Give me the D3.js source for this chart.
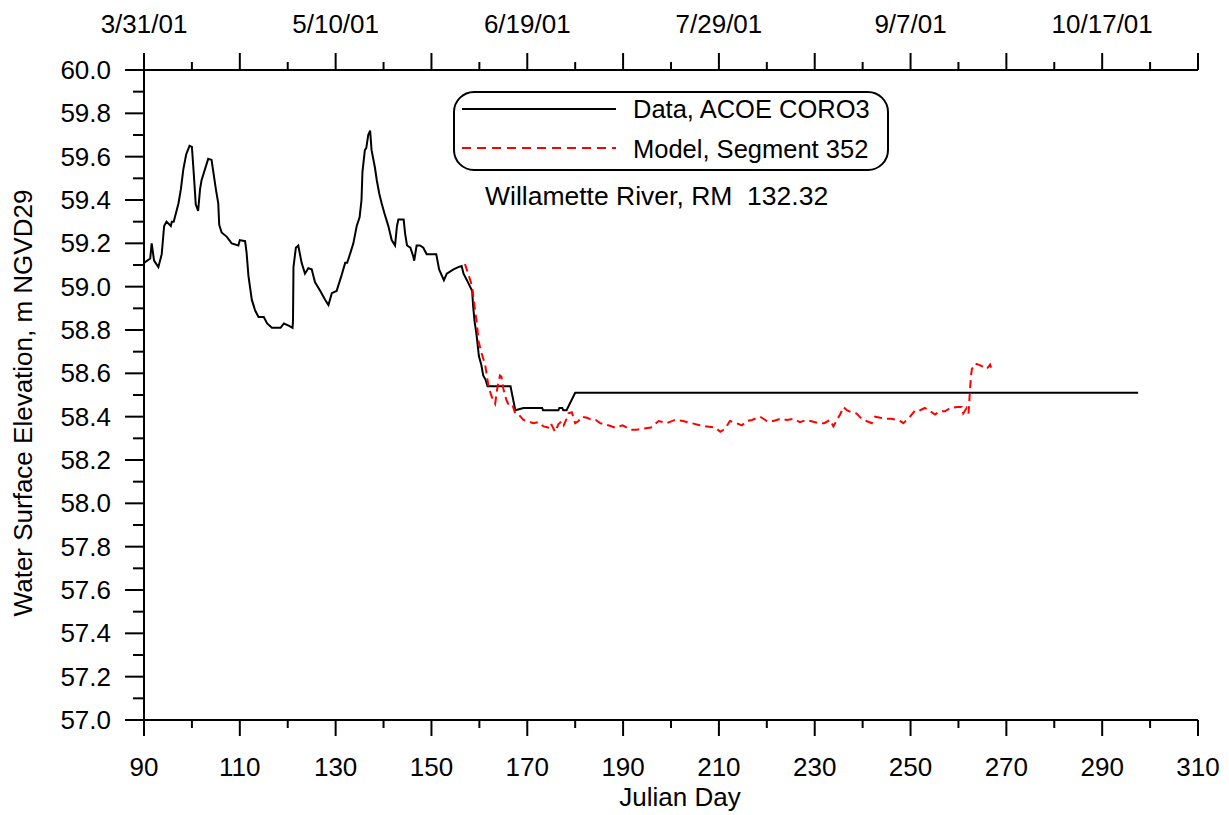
<!DOCTYPE html>
<html>
<head>
<meta charset="utf-8">
<script src="https://cdn.jsdelivr.net/npm/d3@7"></script>
<style>
  html, body { margin: 0; padding: 0; background: #fff; }
  svg text { font-family: "Liberation Sans", Arial, sans-serif; fill: #000; }
</style>
</head>
<body>
<svg id="chart" width="1229" height="815"></svg>
<script>
// ---- data ----
const dataDays = [90,91.3,91.6,92.1,93.0,93.7,94.2,94.7,95.6,95.8,96.2,97.2,97.7,98.2,98.8,99.5,100.0,100.3,100.6,100.8,101.3,101.7,102.0,102.7,103.4,104.1,104.4,105.0,105.5,105.7,106.2,107.3,108.3,109.7,110.0,111.1,111.4,111.8,112.5,113.2,113.9,115.0,115.7,116.7,118.5,119.2,120.2,121.0,121.1,121.2,121.7,122.2,122.9,123.6,124.3,125.0,125.7,126.8,127.8,128.5,129.2,130.2,131.2,132.0,132.4,133.0,133.7,134.4,135.0,135.4,135.6,136.1,136.4,136.8,137.2,137.5,138.2,138.6,139.1,139.6,140.3,141.0,141.7,142.4,142.8,143.1,144.2,144.5,144.9,145.6,146.2,146.4,146.9,147.6,148.3,149.0,151.0,151.6,152.6,153.2,154.6,155.6,156.3,156.7,157.4,158.5,158.7,159.0,159.4,159.9,160.4,160.8,161.3,161.7,166.5,167.5,169.2,173.1,173.3,176.5,176.7,177.3,177.5,178.2,180.0,297.5];
const dataElev = [59.11,59.13,59.20,59.12,59.09,59.15,59.28,59.30,59.28,59.30,59.30,59.385,59.45,59.54,59.61,59.65,59.645,59.55,59.45,59.38,59.35,59.45,59.49,59.54,59.59,59.585,59.54,59.45,59.385,59.285,59.25,59.23,59.20,59.19,59.215,59.21,59.16,59.05,58.94,58.89,58.86,58.86,58.83,58.81,58.81,58.83,58.82,58.81,58.84,59.09,59.18,59.19,59.11,59.06,59.085,59.08,59.02,58.98,58.94,58.915,58.97,58.98,59.05,59.11,59.11,59.15,59.20,59.28,59.32,59.40,59.53,59.63,59.64,59.70,59.72,59.63,59.55,59.49,59.43,59.385,59.33,59.28,59.215,59.19,59.28,59.31,59.31,59.245,59.19,59.18,59.14,59.12,59.19,59.19,59.18,59.15,59.15,59.08,59.03,59.06,59.08,59.09,59.095,59.06,59.03,58.98,58.91,58.84,58.78,58.68,58.64,58.59,58.57,58.54,58.54,58.43,58.44,58.44,58.43,58.43,58.44,58.44,58.43,58.43,58.51,58.51];

const modelDays = [157.0,157.2,158.1,158.5,159.1,159.5,159.8,160.5,161.2,161.6,161.9,162.6,162.9,163.3,163.8,164.3,164.6,165.0,165.6,166.0,166.8,167.5,168.2,169.2,169.9,171.3,172.3,173.4,174.4,174.9,175.8,176.5,177.2,177.6,178.2,178.6,179.3,180.0,180.7,181.4,182.5,183.4,184.3,185.2,186.9,188.3,189.9,191.5,192.8,194.2,195.8,197.4,199.1,200.8,202.5,204.3,206.0,207.5,209.2,210.3,211.3,212.3,213.7,214.8,215.9,216.9,218.6,220.0,221.4,222.8,224.2,225.5,226.9,228.3,229.1,230.8,232.0,233.2,233.9,234.6,235.3,236.0,236.7,237.7,238.7,239.8,240.8,241.9,242.6,243.7,245.0,246.0,247.1,247.8,248.5,249.9,251.0,252.0,253.0,254.1,255.1,256.1,257.2,258.3,259.7,260.7,261.0,261.7,262.1,262.4,262.6,262.8,263.5,264.2,265.2,265.9,266.6,267.0];
const modelElev = [59.105,59.09,59.03,59.00,58.89,58.83,58.75,58.69,58.64,58.585,58.54,58.49,58.48,58.46,58.54,58.59,58.585,58.53,58.48,58.46,58.46,58.415,58.41,58.385,58.38,58.37,58.375,58.355,58.35,58.37,58.33,58.365,58.38,58.36,58.39,58.415,58.42,58.37,58.38,58.40,58.395,58.385,58.385,58.37,58.36,58.35,58.36,58.34,58.34,58.345,58.35,58.38,58.37,58.385,58.38,58.37,58.36,58.355,58.35,58.33,58.345,58.38,58.37,58.36,58.38,58.385,58.40,58.38,58.38,58.39,58.385,58.39,58.375,58.385,58.38,58.37,58.37,58.385,58.355,58.385,58.41,58.445,58.43,58.42,58.415,58.39,58.38,58.37,58.40,58.395,58.39,58.39,58.385,58.38,58.37,58.40,58.43,58.43,58.44,58.425,58.41,58.425,58.425,58.44,58.445,58.445,58.415,58.44,58.415,58.52,58.585,58.62,58.645,58.64,58.63,58.62,58.64,58.615];

const xTicksMajor = [90,110,130,150,170,190,210,230,250,270,290,310];
const xTickLabels = ["90","110","130","150","170","190","210","230","250","270","290","310"];
const topTickDays = [90,130,170,210,250,290];
const topTickLabels = ["3/31/01","5/10/01","6/19/01","7/29/01","9/7/01","10/17/01"];
const yTicksMajor = [57.0,57.2,57.4,57.6,57.8,58.0,58.2,58.4,58.6,58.8,59.0,59.2,59.4,59.6,59.8,60.0];

const seriesNames = ["Data, ACOE CORO3", "Model, Segment 352"];
const annotation = "Willamette River, RM\u00a0 132.32";
const xTitle = "Julian Day";
const yTitle = "Water Surface Elevation, m NGVD29";

// ---- layout ----
const L = 144, R = 1198, T = 70, B = 720;
const svg = d3.select("#chart");
const x = d3.scaleLinear().domain([90, 310]).range([L, R]);
const y = d3.scaleLinear().domain([57, 60]).range([B, T]);
const FS = 26;

const axisG = svg.append("g").attr("stroke", "#000").attr("stroke-width", 2).attr("fill", "none");
axisG.append("line").attr("x1", L).attr("x2", R).attr("y1", B).attr("y2", B);
axisG.append("line").attr("x1", L).attr("x2", R).attr("y1", T).attr("y2", T);
axisG.append("line").attr("x1", L).attr("x2", L).attr("y1", T).attr("y2", B);

const xMinor = d3.range(100, 310, 20);
xTicksMajor.forEach(d => {
  axisG.append("line").attr("x1", x(d)).attr("x2", x(d)).attr("y1", B).attr("y2", B + 16);
  axisG.append("line").attr("x1", x(d)).attr("x2", x(d)).attr("y1", T).attr("y2", T - 17);
});
xMinor.forEach(d => {
  axisG.append("line").attr("x1", x(d)).attr("x2", x(d)).attr("y1", B).attr("y2", B + 8);
  axisG.append("line").attr("x1", x(d)).attr("x2", x(d)).attr("y1", T).attr("y2", T - 8);
});
const yMinor = d3.range(57.1, 60, 0.2);
yTicksMajor.forEach(d => {
  axisG.append("line").attr("x1", L).attr("x2", L - 19).attr("y1", y(d)).attr("y2", y(d));
});
yMinor.forEach(d => {
  axisG.append("line").attr("x1", L).attr("x2", L - 11).attr("y1", y(d)).attr("y2", y(d));
});

const txt = svg.append("g").attr("font-size", FS);
xTicksMajor.forEach((d, i) => {
  txt.append("text").attr("x", x(d)).attr("y", B + 56).attr("text-anchor", "middle").text(xTickLabels[i]);
});
topTickDays.forEach((d, i) => {
  txt.append("text").attr("x", x(d)).attr("y", 33).attr("text-anchor", "middle").text(topTickLabels[i]);
});
yTicksMajor.forEach(d => {
  txt.append("text").attr("x", L - 33).attr("y", y(d)).attr("dy", "0.35em").attr("text-anchor", "end").text(d.toFixed(1));
});
txt.append("text").attr("x", (L + R) / 2 + 9).attr("y", 806).attr("text-anchor", "middle").text(xTitle);
txt.append("text").attr("transform", `translate(32,${(T + B) / 2 + 8}) rotate(-90)`).attr("text-anchor", "middle").text(yTitle);

const dataPts = dataDays.map((d, i) => [d, dataElev[i]]);
const modelPts = modelDays.map((d, i) => [d, modelElev[i]]);
const line = d3.line().x(d => x(d[0])).y(d => y(d[1]));

svg.append("path").attr("d", line(dataPts)).attr("fill", "none").attr("stroke", "#000").attr("stroke-width", 2);
svg.append("path").attr("d", line(modelPts)).attr("fill", "none").attr("stroke", "#ff0000").attr("stroke-width", 2).attr("stroke-dasharray", "8,5");

const lg = svg.append("g");
lg.append("rect").attr("x", 454).attr("y", 92).attr("width", 434).attr("height", 78).attr("rx", 20).attr("ry", 20)
  .attr("fill", "#fff").attr("stroke", "#000").attr("stroke-width", 2);
lg.append("line").attr("x1", 462).attr("x2", 616).attr("y1", 109).attr("y2", 109).attr("stroke", "#000").attr("stroke-width", 2);
lg.append("line").attr("x1", 462).attr("x2", 616).attr("y1", 148).attr("y2", 148).attr("stroke", "#ff0000").attr("stroke-width", 2).attr("stroke-dasharray", "9,6");
lg.append("text").attr("x", 633).attr("y", 118).attr("font-size", 25.5).text(seriesNames[0]);
lg.append("text").attr("x", 633).attr("y", 158).attr("font-size", 25.5).text(seriesNames[1]);
svg.append("text").attr("x", 485).attr("y", 205).attr("font-size", 26.5).text(annotation);
</script>
</body>
</html>
